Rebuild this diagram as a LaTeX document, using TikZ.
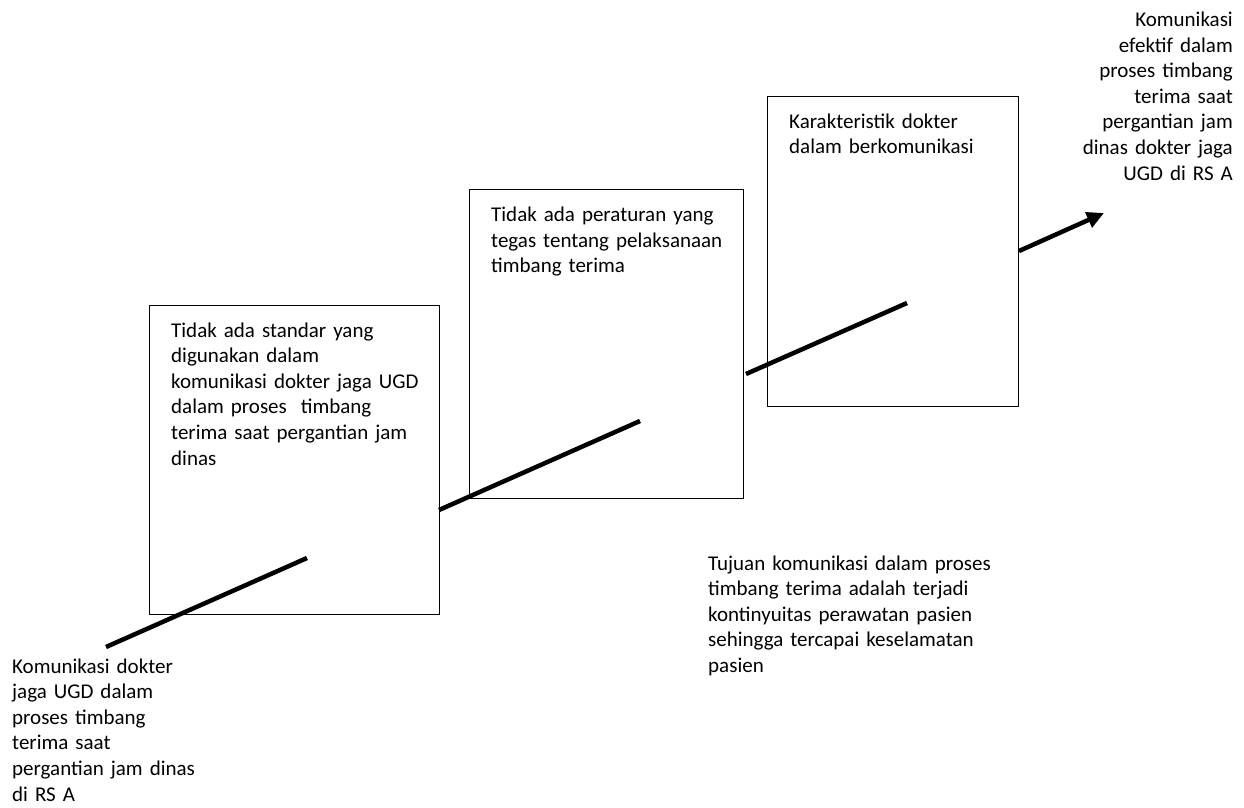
\documentclass[tikz,border=0pt]{standalone}
\usepackage{fontspec}
\setmainfont{Carlito}
\usetikzlibrary{arrows.meta}
\tikzset{
  stagebox/.style={draw=black, line width=1.4pt, fill=none, inner sep=0pt, anchor=north west},
  txt/.style={font=\fontsize{21}{25.6}\selectfont, inner sep=0pt, text width=420pt, align=left, anchor=base west},
  txtr/.style={font=\fontsize{21}{25.6}\selectfont, inner sep=0pt, text width=300pt, align=right, anchor=base east},
  thick line/.style={line width=4.5pt, line cap=butt},
}
\begin{document}
\begin{tikzpicture}[x=1pt, y=-1pt]
\useasboundingbox (0,0) rectangle (1244,807);

% boxes
\node[stagebox, minimum width=290pt, minimum height=309pt] (b1) at (149,305) {};
\node[stagebox, minimum width=274pt, minimum height=309pt] (b2) at (469,189) {};
\node[stagebox, minimum width=251pt, minimum height=310pt] (b3) at (767,96) {};

% box texts
\node[txt] (t1) at (171,337) {Tidak ada standar yang\\digunakan dalam\\komunikasi dokter jaga UGD\\dalam proses\ \ timbang\\terima saat pergantian jam\\dinas};
\node[txt] (t2) at (491,221.5) {Tidak ada peraturan yang\\tegas tentang pelaksanaan\\timbang terima};
\node[txt] (t3) at (789,128) {Karakteristik dokter\\dalam berkomunikasi};

% free texts
\node[txt] (start) at (12,673) {Komunikasi dokter\\jaga UGD dalam\\proses timbang\\terima saat\\pergantian jam dinas\\di RS A};
\node[txt] (goal) at (708,570) {Tujuan komunikasi dalam proses\\timbang terima adalah terjadi\\kontinyuitas perawatan pasien\\sehingga tercapai keselamatan\\pasien};
\node[txtr] (end) at (1233,26.5) {Komunikasi\\efektif dalam\\proses timbang\\terima saat\\pergantian jam\\dinas dokter jaga\\UGD di RS A};

% line segments
\coordinate (l1a) at (106,647);
\coordinate (l1b) at (307,558);
\coordinate (l2a) at (439,510);
\coordinate (l2b) at (640,421);
\coordinate (l3a) at (746,374);
\coordinate (l3b) at (907,303);
\coordinate (l4a) at (1019,251);
\coordinate (l4b) at (1104,213);

\draw[thick line] (l1a) -- (l1b);
\draw[thick line] (l2a) -- (l2b);
\draw[thick line] (l3a) -- (l3b);
\draw[thick line, -{Triangle[length=17pt,width=16pt]}] (l4a) -- (l4b);
\end{tikzpicture}
\end{document}
